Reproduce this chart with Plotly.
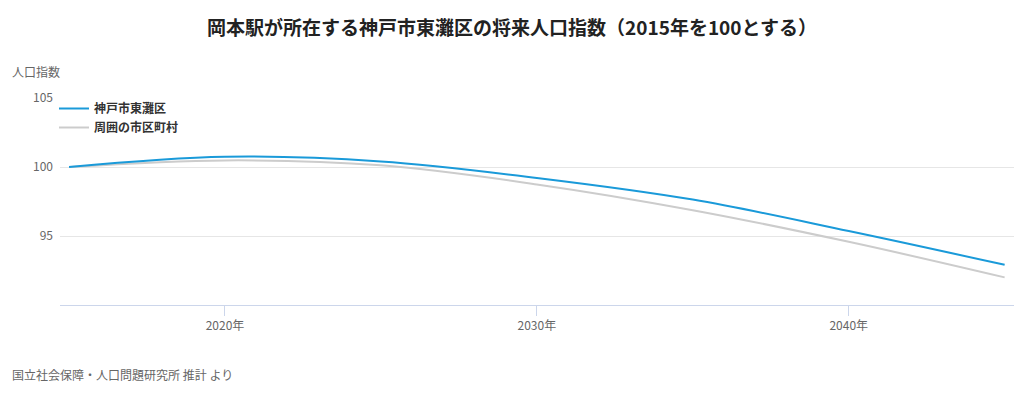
import plotly.graph_objects as go

years = [2015, 2020, 2025, 2030, 2035, 2040, 2045]
higashinada = [100.0, 100.74, 100.4, 99.21, 97.64, 95.36, 92.91]
surrounding = [100.0, 100.48, 100.12, 98.74, 96.87, 94.58, 92.0]
series_names = ["神戸市東灘区", "周囲の市区町村"]
x_ticks = [2020, 2030, 2040]
x_tick_labels = ["2020年", "2030年", "2040年"]
y_ticks = [95, 100, 105]

FONT = "Noto Sans CJK JP"

fig = go.Figure()
fig.add_trace(go.Scatter(
    x=years, y=surrounding, name="<b>" + series_names[1] + "</b>", mode="lines",
    line=dict(color="#cccccc", width=2, shape="spline", smoothing=1.0),
))
fig.add_trace(go.Scatter(
    x=years, y=higashinada, name="<b>" + series_names[0] + "</b>", mode="lines",
    line=dict(color="#1a9ad9", width=2, shape="spline", smoothing=1.0),
))

fig.update_layout(
    width=1024, height=393,
    margin=dict(l=60, r=10, t=98, b=88),
    paper_bgcolor="white", plot_bgcolor="white",
    font=dict(family=FONT, color="#666666", size=12),
    title=dict(
        text="<b>岡本駅が所在する神戸市東灘区の将来人口指数（2015年を100とする）</b>",
        x=0.5, xanchor="center", y=1 - 28 / 393, yanchor="middle",
        font=dict(family=FONT, size=19, color="#222222"),
    ),
    showlegend=True,
    legend=dict(
        x=-6 / 954, y=1 + 4 / 207, xanchor="left", yanchor="top",
        bgcolor="rgba(0,0,0,0)",
        font=dict(family=FONT, size=12, color="#333333"),
        traceorder="reversed",
        itemwidth=30, tracegroupgap=0,
    ),
    xaxis=dict(
        range=[2014.71, 2045.3],
        tickvals=x_ticks, ticktext=x_tick_labels,
        showgrid=False, zeroline=False,
        showline=True, linecolor="#ccd6eb", linewidth=1,
        ticks="outside", ticklen=10, tickcolor="#ccd6eb",
        tickfont=dict(size=12, color="#666666"),
    ),
    yaxis=dict(
        range=[90, 105],
        tickvals=y_ticks,
        showgrid=True, gridcolor="#e6e6e6", gridwidth=1,
        zeroline=False, showline=False,
        ticks="", tickfont=dict(size=12, color="#666666"),
        ticklabelstandoff=6,
    ),
    annotations=[
        dict(text="人口指数", xref="paper", yref="paper",
             x=-50 / 954, y=1 + 26 / 207, xanchor="left", yanchor="middle",
             showarrow=False, font=dict(size=12, color="#666666", family=FONT)),
        dict(text="国立社会保障・人口問題研究所 推計 より", xref="paper", yref="paper",
             x=-50 / 954, y=-(374 - 305) / 207, xanchor="left", yanchor="middle",
             showarrow=False, font=dict(size=12, color="#666666", family=FONT)),
    ],
)

fig.write_html("out.html")
